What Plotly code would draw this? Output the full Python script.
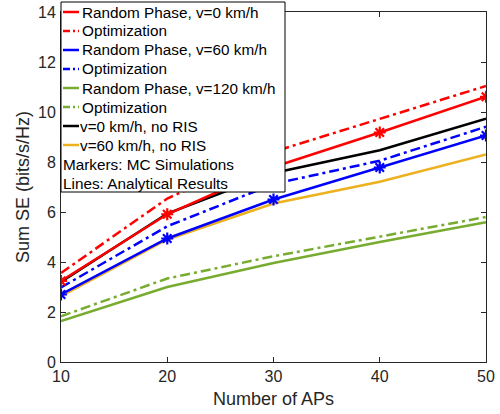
import plotly.graph_objects as go

# ---------------- data ----------------
num_aps = [10, 20, 30, 40, 50]
rp_v0 = [3.24, 5.91, 7.80, 9.18, 10.61]
opt_v0 = [3.56, 6.54, 8.41, 9.74, 11.04]
rp_v60 = [2.70, 4.94, 6.50, 7.78, 9.06]
opt_v60 = [2.98, 5.43, 7.12, 8.05, 9.41]
rp_v120 = [1.64, 3.00, 3.96, 4.80, 5.59]
opt_v120 = [1.83, 3.34, 4.23, 5.03, 5.80]
noris_v0 = [3.20, 5.94, 7.56, 8.47, 9.73]
noris_v60 = [2.63, 4.90, 6.34, 7.21, 8.30]
mc_v0 = [3.24, 5.91, 7.80, 9.18, 10.61]
mc_v60 = [2.70, 4.94, 6.50, 7.78, 9.06]

legend_labels = [
    "Random Phase, v=0 km/h", "Optimization",
    "Random Phase, v=60 km/h", "Optimization",
    "Random Phase, v=120 km/h", "Optimization",
    "v=0 km/h, no RIS", "v=60 km/h, no RIS",
    "Markers: MC Simulations", "Lines: Analytical Results",
]

RED, BLUE, GREEN, BLACK, ORANGE = "#FF0000", "#0000FF", "#77AC30", "#000000", "#EDB120"
DASHDOT = "10px,4px,3px,4px"
DASHDOT_SMALL = "7px,3px,2px,3px"
FONT = "Liberation Sans, Arial, sans-serif"

fig = go.Figure()

def line(y, color, dash="solid"):
    fig.add_trace(go.Scatter(x=num_aps, y=y, mode="lines",
                             line=dict(color=color, width=2.5, dash=dash),
                             showlegend=False, hoverinfo="skip"))

line(rp_v120, GREEN)
line(opt_v120, GREEN, DASHDOT)
line(noris_v60, ORANGE)
line(noris_v0, BLACK)
line(opt_v60, BLUE, DASHDOT)
line(rp_v60, BLUE)
line(opt_v0, RED, DASHDOT)
line(rp_v0, RED)

for y, c in [(mc_v60, BLUE), (mc_v0, RED)]:
    fig.add_trace(go.Scatter(x=num_aps, y=y, mode="markers",
                             marker=dict(symbol="asterisk", size=10,
                                         line=dict(color=c, width=2.2)),
                             showlegend=False, hoverinfo="skip"))

# ---------------- layout ----------------
W, H = 500, 414
L, R, T, B = 61, 14, 12, 52
pw, ph = W - L - R, H - T - B

def px2paper_x(px):
    return (px - L) / pw

def px2paper_y(py):
    return (H - B - py) / ph

axis_common = dict(showgrid=False, zeroline=False, ticks="inside", ticklen=5,
                   tickwidth=1, tickcolor="#262626", showline=True,
                   linecolor="#262626", linewidth=1, mirror="ticks",
                   automargin=False,
                   tickfont=dict(family=FONT, size=16, color="#262626"))

fig.update_layout(
    width=W, height=H,
    margin=dict(l=L, r=R, t=T, b=B),
    paper_bgcolor="white", plot_bgcolor="white",
    xaxis=dict(range=[10, 50], tickvals=[10, 20, 30, 40, 50],
               title=dict(text="Number of APs", standoff=8,
                          font=dict(family=FONT, size=18, color="#262626")),
               **axis_common),
    yaxis=dict(range=[0, 14], tickvals=list(range(0, 15, 2)),
               ticklabelstandoff=1,
               title=dict(text="Sum SE (bits/s/Hz)", standoff=3,
                          font=dict(family=FONT, size=18, color="#262626")),
               **axis_common),
    showlegend=False,
)

# ---------------- manual MATLAB-style legend ----------------
box_l, box_r, box_t, box_b = 61, 285, 2, 192
shapes = [dict(type="rect", xref="paper", yref="paper", layer="above",
               x0=px2paper_x(box_l), x1=px2paper_x(box_r),
               y0=px2paper_y(box_b), y1=px2paper_y(box_t),
               fillcolor="white", line=dict(color="black", width=1))]
annotations = []
styles = [(RED, "solid"), (RED, DASHDOT_SMALL),
          (BLUE, "solid"), (BLUE, DASHDOT_SMALL),
          (GREEN, "solid"), (GREEN, DASHDOT_SMALL),
          (BLACK, "solid"), (ORANGE, "solid"), (None, None), (None, None)]
row0, dy = 12, 19
for i, (lab, (c, d)) in enumerate(zip(legend_labels, styles)):
    yy = row0 + i * dy
    if c is not None:
        shapes.append(dict(type="line", xref="paper", yref="paper", layer="above",
                           x0=px2paper_x(63), x1=px2paper_x(79),
                           y0=px2paper_y(yy), y1=px2paper_y(yy),
                           line=dict(color=c, width=2.5, dash=d)))
        tx = 80 if i < 6 else 78
    else:
        tx = 61
    annotations.append(dict(text=lab, xref="paper", yref="paper",
                            x=px2paper_x(tx), y=px2paper_y(yy),
                            xanchor="left", yanchor="middle", showarrow=False,
                            font=dict(family=FONT, size=15.3, color="black")))

fig.update_layout(shapes=shapes, annotations=annotations)
fig.write_html("out.html")
